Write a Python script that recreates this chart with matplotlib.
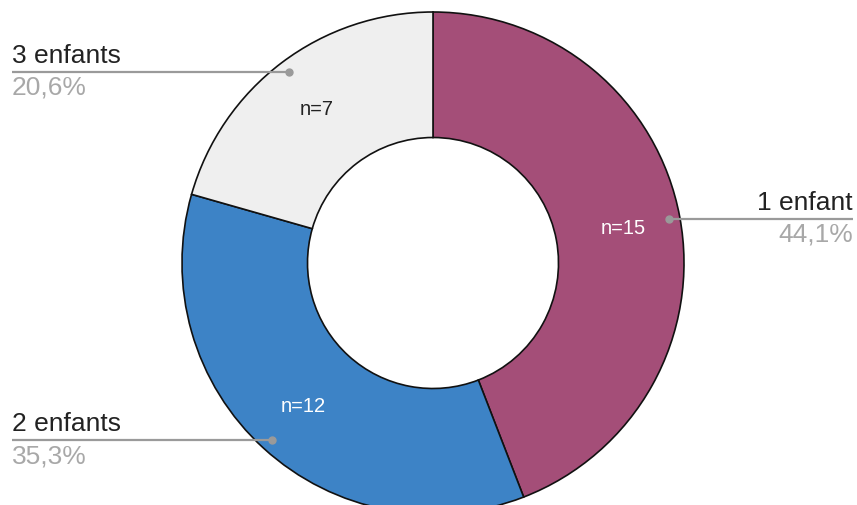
import numpy as np
import matplotlib
matplotlib.use("Agg")
import matplotlib.pyplot as plt

categories = ["1 enfant", "2 enfants", "3 enfants"]
counts = [15, 12, 7]
percent_labels = ["44,1%", "35,3%", "20,6%"]
colors = ["#A44E78", "#3D83C6", "#EFEFEF"]
inner_text_colors = ["white", "white", "#222222"]

plt.rcParams['font.family'] = ['Liberation Sans', 'DejaVu Sans']

W, H = 857, 506
fig = plt.figure(figsize=(W / 100, H / 100), dpi=100)
ax = fig.add_axes([0, 0, 1, 1])

cx, cy, R = 433, H - 264, 251
wedges, _ = ax.pie(counts, colors=colors, startangle=90, counterclock=False,
                   center=(cx, cy), radius=R, frame=True,
                   wedgeprops=dict(width=R * 0.5, edgecolor='#111111', linewidth=1.2))
ax.set_xlim(0, W)
ax.set_ylim(0, H)
ax.set_aspect('equal')
ax.axis('off')

for i, w in enumerate(wedges):
    mid = np.deg2rad((w.theta1 + w.theta2) / 2)
    # inner n= label
    tx = cx + 0.77 * R * np.cos(mid)
    ty = cy + 0.77 * R * np.sin(mid)
    ax.text(tx, ty, f"n={counts[i]}", ha='center', va='center', fontsize=14.5,
            color=inner_text_colors[i])
    # outer callout
    dx = cx + 0.955 * R * np.cos(mid)
    dy = cy + 0.955 * R * np.sin(mid)
    if np.cos(mid) >= 0:
        ex, ha = 853, 'right'
    else:
        ex, ha = 12, 'left'
    ax.plot([dx, ex], [dy, dy], color='#9A9A9A', lw=1.6, solid_capstyle='butt', zorder=5)
    ax.plot([dx], [dy], 'o', color='#9A9A9A', ms=5, zorder=6)
    ax.text(ex, dy + 5, categories[i], ha=ha, va='bottom', fontsize=19, color='#222222')
    ax.text(ex, dy - 3, percent_labels[i], ha=ha, va='top', fontsize=19, color='#A8A8A8')

fig.savefig("out.png", dpi=100)
